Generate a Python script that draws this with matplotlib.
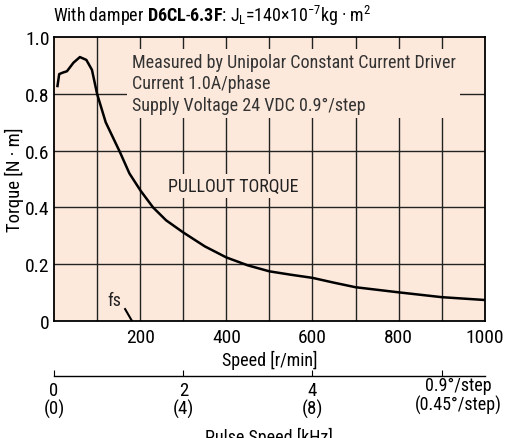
import matplotlib
matplotlib.use("Agg")
import matplotlib.pyplot as plt
from matplotlib import font_manager

# look for a narrow face, the original uses a condensed sans
fonts = font_manager.fontManager.ttflist
narrow = [f for f in fonts if f.name in ('Liberation Sans Narrow', 'DejaVu Sans Condensed',
                                         'Roboto Condensed', 'Open Sans Condensed')]
stretch_cond = [f for f in fonts if f.name == 'DejaVu Sans' and f.stretch == 'condensed']
fam = 'DejaVu Sans'
if narrow:
    fam = narrow[0].name
    plt.rcParams['font.family'] = [fam, 'DejaVu Sans']
    scale = 1.0
elif stretch_cond:
    plt.rcParams['font.family'] = ['DejaVu Sans']
    plt.rcParams['font.stretch'] = 'condensed'
    scale = 0.95
else:
    plt.rcParams['font.family'] = ['DejaVu Sans']
    scale = 0.85
plt.rcParams['mathtext.fontset'] = 'custom'
plt.rcParams['mathtext.rm'] = fam
plt.rcParams['mathtext.bf'] = fam + ':bold'

speed = [8, 12, 20, 30, 45, 60, 75, 88, 100, 120, 153, 175, 201, 230, 260, 300, 350,
         400, 450, 500, 550, 600, 650, 700, 800, 900, 1000]
torque = [0.828, 0.87, 0.875, 0.88, 0.91, 0.93, 0.92, 0.885, 0.80, 0.70, 0.595, 0.52,
          0.459, 0.40, 0.355, 0.312, 0.263, 0.224, 0.196, 0.175, 0.163, 0.152, 0.135,
          0.119, 0.101, 0.084, 0.074]

x_ticks = [200, 400, 600, 800, 1000]
y_ticks = [0, 0.2, 0.4, 0.6, 0.8, 1.0]
y_labels = ['0', '0.2', '0.4', '0.6', '0.8', '1.0']
pulse_ticks = [0, 300, 600, 900]
pulse_labels = ['0\n(0)', '2\n(4)', '4\n(8)', '']

bg = '#fde9dc'
fig = plt.figure(figsize=(5.05, 4.39), dpi=100)
ax = fig.add_axes([0.107, 0.2665, 0.853, 0.6465])
ax.set_facecolor(bg)
ax.set_xlim(0, 1000)
ax.set_ylim(0, 1.0)

# grid
for gx in range(100, 1000, 100):
    ax.axvline(gx, color='#222222', lw=1.0, zorder=1)
for gy in [0.2, 0.4, 0.6, 0.8]:
    ax.axhline(gy, color='#222222', lw=1.0, zorder=1)

ax.plot(speed, torque, color='black', lw=1.8, zorder=4)

ax.set_xticks(x_ticks)
ax.set_yticks(y_ticks)
ax.set_yticklabels(y_labels)
ax.tick_params(length=0, labelsize=14 * scale)
ax.tick_params(axis='x', pad=5)
ax.tick_params(axis='y', pad=3)
for s in ax.spines.values():
    s.set_linewidth(1.3)
ax.set_xlabel('Speed [r/min]', fontsize=13 * scale, labelpad=3)
ax.set_ylabel('Torque [N · m]', fontsize=13.5 * scale, labelpad=1)

note = ax.text(180, 0.945, 'Measured by Unipolar Constant Current Driver\nCurrent 1.0A/phase\n'
               'Supply Voltage 24 VDC 0.9°/step', fontsize=13 * scale, color='#333333',
               va='top', ha='left', linespacing=1.25, zorder=3,
               bbox=dict(facecolor=bg, edgecolor='none', pad=3))
note.set_clip_on(True)
ax.text(264, 0.475, 'PULLOUT TORQUE', fontsize=13 * scale, color='#222222', va='center',
        ha='left', zorder=3, bbox=dict(facecolor=bg, edgecolor='none', pad=2))
ax.text(141, 0.075, 'fs', fontsize=13 * scale, color='#222222', ha='center', va='center', zorder=3)
ax.plot([165, 181], [0.042, 0.0], color='black', lw=1.5, zorder=4)

fig.text(0.105, 0.963, r'With damper $\mathbf{D6CL\text{-}6.3F}$: J$_{\rm L}$=140×10$^{-7}$kg · m$^2$',
         fontsize=13 * scale, ha='left', va='center')

# pulse speed axis
ax2 = fig.add_axes([0.107, 0.142, 0.853, 0.001])
ax2.set_xlim(0, 1000)
ax2.set_ylim(0, 1)
for k in ['top', 'left', 'right']:
    ax2.spines[k].set_visible(False)
ax2.spines['bottom'].set_linewidth(1.0)
ax2.set_yticks([])
ax2.set_xticks(pulse_ticks)
ax2.set_xticklabels(pulse_labels, linespacing=1.0)
ax2.tick_params(axis='x', direction='in', length=4, labelsize=13.5 * scale, pad=4)
ax2.set_xlabel('Pulse Speed [kHz]', fontsize=13 * scale, labelpad=6)
fig.text(0.993, 0.098, '0.9°/step\n(0.45°/step)', fontsize=13 * scale, ha='right',
         va='center', linespacing=1.0, multialignment='center')

fig.savefig('out.png', dpi=100, facecolor='white')
